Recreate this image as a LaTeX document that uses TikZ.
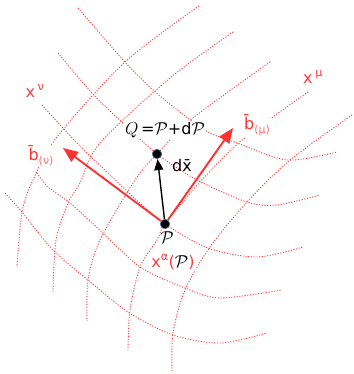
\documentclass[tikz,border=0pt]{standalone}
\usepackage{fontspec}
\setmainfont{DejaVu Sans}
\usetikzlibrary{arrows.meta}

\definecolor{gridred}{RGB}{255,60,60}
\definecolor{vecred}{RGB}{255,50,50}
\definecolor{lightred}{RGB}{255,110,110}
\definecolor{dotrim}{RGB}{70,110,160}

\begin{document}
\begin{tikzpicture}[x=1pt, y=-1pt, font=\fontsize{16}{18}\selectfont,
  gridline/.style={gridred, line width=0.9pt, dash pattern=on 1.1pt off 1.6pt},
  vec/.style={vecred, line width=1.9pt, -{Triangle[length=15pt,width=12pt]}},
  dotnode/.style={circle, fill=black, draw=dotrim, line width=0.7pt,
    inner sep=0pt, minimum size=9.5pt},
  lbl/.style={fill=white, inner sep=1pt}]
  \def\subfont{\fontsize{11}{11}\selectfont}
  \useasboundingbox (0,0) rectangle (353,374);

  % ----- $x^\mu$ coordinate lines -----
  \draw[gridline] plot[smooth] coordinates {(199,6) (125,62) (57,137) (33,180) (22,212) (17,267)};
  \draw[gridline] plot[smooth] coordinates {(233,32) (170,78) (100,143) (80,183) (68,203) (56,240) (53,292)};
  \draw[gridline] plot[smooth] coordinates {(270,62) (193,118) (157,154) (135,180) (100,240) (88,280) (87,323)};
  \draw[gridline] plot[smooth] coordinates {(308,92) (242,140) (200,182) (165,224) (157,240) (140,267) (130,310) (128,350)};
  \draw[gridline] plot[smooth] coordinates {(352,115) (290,160) (247,202) (210,247) (185,290) (173,333) (172,373)};

  % ----- $x^\nu$ coordinate lines -----
  \draw[gridline] plot[smooth] coordinates {(78,8) (125,62) (153,90) (180,112) (208,132) (237,143) (287,160) (337,152)};
  \draw[gridline] plot[smooth] coordinates {(58,53) (92,93) (125,125) (157,154) (197,180) (247,202) (277,205) (320,195)};
  \draw[gridline] plot[smooth] coordinates {(42,105) (77,143) (110,175) (140,203) (165,224) (208,248) (257,257) (303,247)};
  \draw[gridline] plot[smooth] coordinates {(37,173) (48,187) (70,203) (103,233) (140,267) (185,288) (220,298) (282,290)};
  \draw[gridline] plot[smooth] coordinates {(5,193) (22,212) (53,250) (88,280) (128,312) (173,335) (220,343) (267,333)};

  % ----- labels -----
  \node[text=gridred] (xnu) at (35,91) {x\,\textsuperscript{ν}};
  \node[text=gridred] (xmu) at (313,77) {x\,\textsuperscript{μ}};
  \node[lbl, text=vecred] (bnulbl) at (41,156) {\=b\textcolor{lightred}{\subfont\raisebox{-4pt}{(ν)}}};
  \node[lbl, text=vecred] (bmulbl) at (257,125) {\=b\textcolor{lightred}{\subfont\raisebox{-4pt}{(μ)}}};
  \node[lbl] (qlbl) at (165,130) {$Q$\,=$\mathcal{P}$+d$\mathcal{P}$};
  \node (dxlbl) at (182,166) {d\=x};
  \node (plbl) at (167,238) {$\mathcal{P}$};
  \node[lbl, text=gridred] (xalbl) at (173,262) {x\textsuperscript{α}(\textcolor{black}{$\mathcal{P}$})};

  % ----- points and vectors -----
  \node[dotnode] (P) at (165,224) {};
  \node[dotnode] (Q) at (157,154) {};
  \coordinate (bnu) at (63,148);
  \coordinate (bmu) at (233,128);
  \draw[vec] (P) -- (bnu);
  \draw[vec] (P) -- (bmu);
  \draw[line width=1.4pt, -{Triangle[length=11pt,width=9pt]}] (P) -- (Q);
\end{tikzpicture}
\end{document}
